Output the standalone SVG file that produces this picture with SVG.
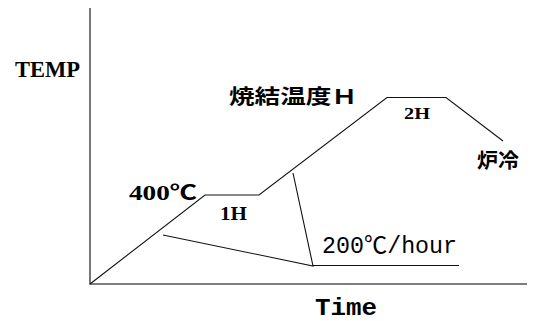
<svg xmlns="http://www.w3.org/2000/svg" width="541" height="321" viewBox="0 0 541 321">
<style>
.axis{stroke:#555;stroke-width:1.6;fill:none}
.ln{stroke:#111;stroke-width:1.1;fill:none}
.serif{font-family:"Liberation Serif","Noto Sans CJK JP",serif;font-weight:bold;fill:#000}
.cjk{font-family:"Noto Sans CJK JP",sans-serif;font-weight:bold;fill:#000}
.mono{font-family:"Liberation Mono","Noto Sans CJK JP",monospace;fill:#000}
</style>
<rect width="541" height="321" fill="#fff"/>
<g id="connectors">
<path class="axis" d="M90,8 V284 H527"/>
<polyline class="ln" points="90,284 205,195 259,195 387,97.5 446,97.5 503,141"/>
<polyline class="ln" points="163,235 313,266 293,173"/>
<line class="ln" x1="313" y1="265.5" x2="459" y2="265.5"/>
</g>
<g id="label-temp"><text class="serif" x="15" y="77" font-size="24" textLength="65" lengthAdjust="spacingAndGlyphs">TEMP</text></g>
<g id="label-sinter"><text class="cjk" x="229" y="104" font-size="20" textLength="128" lengthAdjust="spacingAndGlyphs">焼結温度Ｈ</text></g>
<g id="label-2h"><text class="serif" x="404" y="119" font-size="17.5" textLength="26" lengthAdjust="spacingAndGlyphs">2H</text></g>
<g id="label-cool"><text class="cjk" x="477" y="168" font-size="20" textLength="42" lengthAdjust="spacingAndGlyphs">炉冷</text></g>
<g id="label-400"><text class="serif" x="129" y="200" font-size="20" textLength="68" lengthAdjust="spacingAndGlyphs">400℃</text></g>
<g id="label-1h"><text class="serif" x="220" y="220" font-size="18.5" textLength="27" lengthAdjust="spacingAndGlyphs">1H</text></g>
<g id="label-rate"><text class="mono" x="322" y="253" font-size="23" textLength="135" lengthAdjust="spacingAndGlyphs">200℃/hour</text></g>
<g id="label-time"><text class="mono" x="315" y="315" font-size="24" font-weight="bold" textLength="62" lengthAdjust="spacingAndGlyphs">Time</text></g>
</svg>
